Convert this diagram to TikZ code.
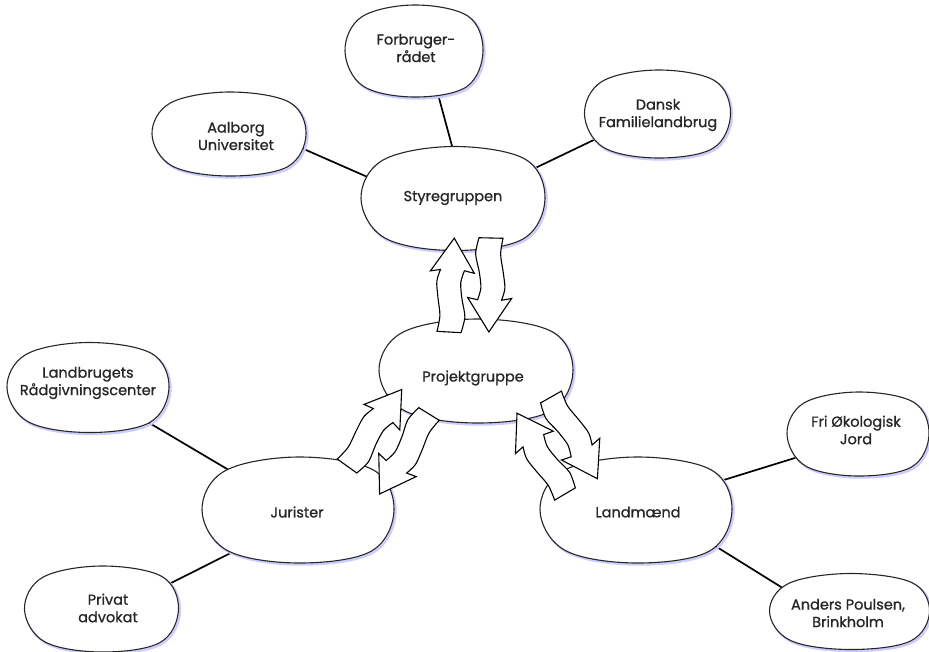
\documentclass[tikz,border=0pt]{standalone}
\usepackage{fontspec}
\setmainfont{Poppins}[FakeBold=0.9]
\usetikzlibrary{shapes.geometric}
\pgfdeclarelayer{back}
\pgfdeclarelayer{conn}
\pgfdeclarelayer{blobs}
\pgfsetlayers{back,conn,blobs,main}
\tikzset{
  anchorshape/.style={ellipse, draw=none, inner sep=0pt},
  lbl/.style={align=center, font=\fontsize{14.5}{17.5}\selectfont, text=black!85},
  blobline/.style={draw=black!85, line width=1.1pt, fill=white},
  blobshadow/.style={draw=blue!20, line width=2.4pt},
  conline/.style={draw=black, line width=1.7pt},
  arrowline/.style={draw=black, line width=1.1pt, fill=white, line join=miter},
  warrow/.pic={
    \path[arrowline] (0,-12) -- (0,12)
      -- plot[smooth] coordinates {(0,12) (16,15) (34,11) (50,9) (62,12)}
      -- (60,22) -- (94,0) -- (60,-22)
      -- plot[smooth] coordinates {(62,-12) (50,-15) (34,-13) (16,-10) (0,-12)} -- cycle;
  }
}
% name, cx, cy, rx, ry, tx, ty, text
\newcommand\myblob[8]{%
  \node[anchorshape, minimum width=#4*2pt, minimum height=#5*2pt] (#1) at (#2,#3) {};
  \node[lbl] (#1-t) at (#6,#7) {#8};
  \begin{pgfonlayer}{blobs}
    \path[blobshadow] plot[smooth cycle, tension=0.6] coordinates {
      (#2+#4+1.5,#3+1.5) (#2+0.76*#4+1.5,#3+0.78*#5+1.5) (#2+1.5,#3+#5+1.5)
      (#2-0.74*#4+1.5,#3+0.76*#5+1.5) (#2-#4+1.5,#3+1.5) (#2-0.76*#4+1.5,#3-0.74*#5+1.5)
      (#2+1.5,#3-#5+1.5) (#2+0.78*#4+1.5,#3-0.76*#5+1.5)};
    \path[blobline] plot[smooth cycle, tension=0.6] coordinates {
      (#2+#4,#3) (#2+0.76*#4,#3+0.78*#5) (#2,#3+#5)
      (#2-0.74*#4,#3+0.76*#5) (#2-#4,#3) (#2-0.76*#4,#3-0.74*#5)
      (#2,#3-#5) (#2+0.78*#4,#3-0.76*#5)};
  \end{pgfonlayer}
}
\begin{document}
\begin{tikzpicture}[x=1pt, y=-1pt]
\begin{pgfonlayer}{back}
\fill[white] (0,0) rectangle (929,651);
\end{pgfonlayer}
\useasboundingbox (0,0) rectangle (929,651);
\myblob{aalborg}{229}{134}{77}{42}{236}{136}{Aalborg\\Universitet}
\myblob{forbruger}{414}{51}{69}{46}{416}{48}{Forbruger-\\rådet}
\myblob{dansk}{657.5}{114}{73}{44}{658}{115}{Dansk\\Familielandbrug}
\myblob{styre}{453}{198.5}{92}{52}{453}{198}{Styregruppen}
\myblob{projekt}{476}{371}{97}{52}{473}{378}{Projektgruppe}
\myblob{landbrug}{88}{387.5}{81}{45}{88}{383}{Landbrugets\\Rådgivningscenter}
\myblob{jurister}{298}{510}{96}{53}{297}{512}{Jurister}
\myblob{landmaend}{636}{510}{96}{53}{638}{512}{Landmænd}
\myblob{fri}{858}{434}{71}{42}{856}{430}{Fri Økologisk\\Jord}
\myblob{anders}{849.5}{611.5}{80}{38}{848}{613}{Anders Poulsen,\\Brinkholm}
\myblob{privat}{101.5}{609}{77}{43}{108}{608}{Privat\\advokat}

\begin{pgfonlayer}{conn}
\draw[conline] (aalborg.-11.6) -- (styre.166.9);
\draw[conline] (forbruger.-61) -- (styre.91);
\draw[conline] (dansk.-158.3) -- (styre.20.4);
\draw[conline] (landbrug.-30.6) -- (jurister.150.8);
\draw[conline] (jurister.-147.7) -- (privat.20.4);
\draw[conline] (landmaend.19.2) -- (fri.-159.1);
\draw[conline] (landmaend.-24.7) -- (anders.161);
\end{pgfonlayer}

\pic[rotate=86.8] at (449,332) {warrow};
\pic[rotate=-91.3] at (491,238) {warrow};
\pic[rotate=54.4] at (347,466) {warrow};
\pic[rotate=-121.7] at (429,414) {warrow};
\pic[rotate=-60.4] at (551,397) {warrow};
\pic[rotate=120.7] at (565,494) {warrow};
\end{tikzpicture}
\end{document}
